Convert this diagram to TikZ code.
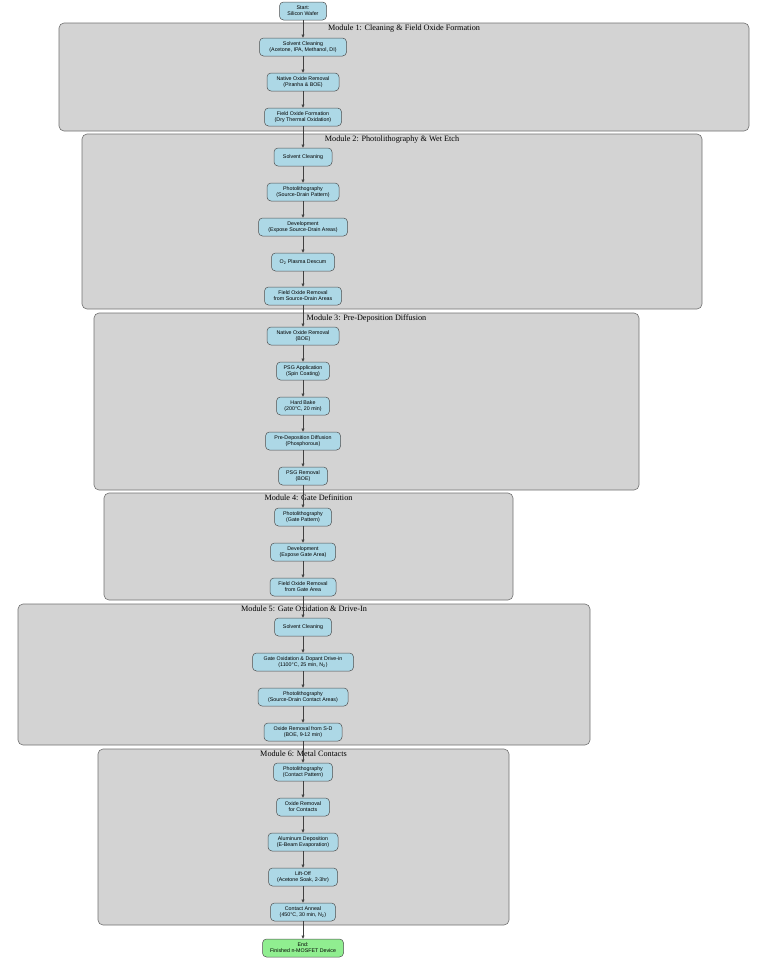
\documentclass[tikz,border=0pt]{standalone}
\usepackage{fontspec}
\setmainfont{Liberation Serif}
\newfontfamily\boxfont{Liberation Sans}
\usetikzlibrary{arrows.meta}
\definecolor{clusterfill}{HTML}{D3D3D3}
\definecolor{clusterline}{HTML}{707070}
\definecolor{stepfill}{HTML}{ADD8E6}
\definecolor{endfill}{HTML}{90EE90}
\definecolor{stepline}{HTML}{505050}
\tikzset{
  cluster/.style={draw=clusterline, fill=clusterfill, line width=0.6pt,
    rounded corners=5pt, inner sep=0pt},
  clustertitle/.style={anchor=north, inner sep=0pt,
    font=\fontsize{8.2}{9}\selectfont},
  stepbox/.style={draw=stepline, fill=stepfill, line width=0.5pt,
    rounded corners=4pt, minimum height=18pt, inner sep=1pt, align=center,
    font=\boxfont\fontsize{5.3}{6}\selectfont},
  endbox/.style={stepbox, fill=endfill},
  flow/.style={draw=black!75, line width=0.5pt,
    -{Triangle[length=3.2pt,width=3pt]}}
}
\begin{document}
\begin{tikzpicture}[x=1pt,y=-1pt]
\useasboundingbox (0,0) rectangle (768,959);

% process modules
\node[cluster, minimum width=690, minimum height=108] (m1) at (404,77) {};
\node[cluster, minimum width=620, minimum height=175] (m2) at (392,221.5) {};
\node[cluster, minimum width=545, minimum height=177] (m3) at (366.5,401.5) {};
\node[cluster, minimum width=409, minimum height=107] (m4) at (308.5,546.5) {};
\node[cluster, minimum width=572, minimum height=141] (m5) at (304,674.5) {};
\node[cluster, minimum width=411, minimum height=176] (m6) at (303.5,837) {};

\node[clustertitle] (t1) at ([yshift=-2pt]m1.north) {Module 1: Cleaning \& Field Oxide Formation};
\node[clustertitle] (t2) at ([yshift=-2pt]m2.north) {Module 2: Photolithography \& Wet Etch};
\node[clustertitle] (t3) at ([yshift=-2pt]m3.north) {Module 3: Pre-Deposition Diffusion};
\node[clustertitle] (t4) at ([yshift=-2pt]m4.north) {Module 4: Gate Definition};
\node[clustertitle] (t5) at ([yshift=-2pt]m5.north) {Module 5: Gate Oxidation \& Drive-In};
\node[clustertitle] (t6) at ([yshift=-2pt]m6.north) {Module 6: Metal Contacts};

% process steps
\node[stepbox, minimum width=47] (s0) at (303,11) {Start:\\Silicon Wafer};

\node[stepbox, minimum width=87] (a1) at (303,47) {Solvent Cleaning\\(Acetone, IPA, Methanol, DI)};
\node[stepbox, minimum width=72] (a2) at (303,82) {Native Oxide Removal\\(Piranha \& BOE)};
\node[stepbox, minimum width=77] (a3) at (303,117) {Field Oxide Formation\\(Dry Thermal Oxidation)};

\node[stepbox, minimum width=58] (b1) at (303,157) {Solvent Cleaning};
\node[stepbox, minimum width=72] (b2) at (303,192) {Photolithography\\(Source-Drain Pattern)};
\node[stepbox, minimum width=89] (b3) at (303,227) {Development\\(Expose Source-Drain Areas)};
\node[stepbox, minimum width=63] (b4) at (303,262) {O\textsubscript{2} Plasma Descum};
\node[stepbox, minimum width=77] (b5) at (303,296) {Field Oxide Removal\\from Source-Drain Areas};

\node[stepbox, minimum width=72] (c1) at (303,336) {Native Oxide Removal\\(BOE)};
\node[stepbox, minimum width=53] (c2) at (303,371) {PSG Application\\(Spin Coating)};
\node[stepbox, minimum width=53] (c3) at (303,406) {Hard Bake\\(200°C, 20 min)};
\node[stepbox, minimum width=75] (c4) at (303,441) {Pre-Deposition Diffusion\\(Phosphorous)};
\node[stepbox, minimum width=49] (c5) at (303,476) {PSG Removal\\(BOE)};

\node[stepbox, minimum width=57] (d1) at (303,517) {Photolithography\\(Gate Pattern)};
\node[stepbox, minimum width=65] (d2) at (303,552) {Development\\(Expose Gate Area)};
\node[stepbox, minimum width=66] (d3) at (303,587) {Field Oxide Removal\\from Gate Area};

\node[stepbox, minimum width=57] (e1) at (303,627) {Solvent Cleaning};
\node[stepbox, minimum width=101] (e2) at (303,662) {Gate Oxidation \& Dopant Drive-in\\(1100°C, 25 min, N\textsubscript{2})};
\node[stepbox, minimum width=90] (e3) at (303,697) {Photolithography\\(Source-Drain Contact Areas)};
\node[stepbox, minimum width=78] (e4) at (303,732) {Oxide Removal from S-D\\(BOE, 9-12 min)};

\node[stepbox, minimum width=59] (f1) at (303,772) {Photolithography\\(Contact Pattern)};
\node[stepbox, minimum width=53] (f2) at (303,807) {Oxide Removal\\for Contacts};
\node[stepbox, minimum width=70] (f3) at (303,842) {Aluminum Deposition\\(E-Beam Evaporation)};
\node[stepbox, minimum width=69] (f4) at (303,877) {Lift-Off\\(Acetone Soak, 2-3hr)};
\node[stepbox, minimum width=65] (f5) at (303,912) {Contact Anneal\\(450°C, 30 min, N\textsubscript{2})};

\node[endbox, minimum width=81] (s1) at (303,948) {End:\\Finished n-MOSFET Device};

% flow between steps
\foreach \p/\q in {s0/a1, a1/a2, a2/a3, a3/b1, b1/b2, b2/b3, b3/b4, b4/b5,
  b5/c1, c1/c2, c2/c3, c3/c4, c4/c5, c5/d1, d1/d2, d2/d3, d3/e1,
  e1/e2, e2/e3, e3/e4, e4/f1, f1/f2, f2/f3, f3/f4, f4/f5, f5/s1}
  \draw[flow] (\p) -- (\q);
\end{tikzpicture}
\end{document}
